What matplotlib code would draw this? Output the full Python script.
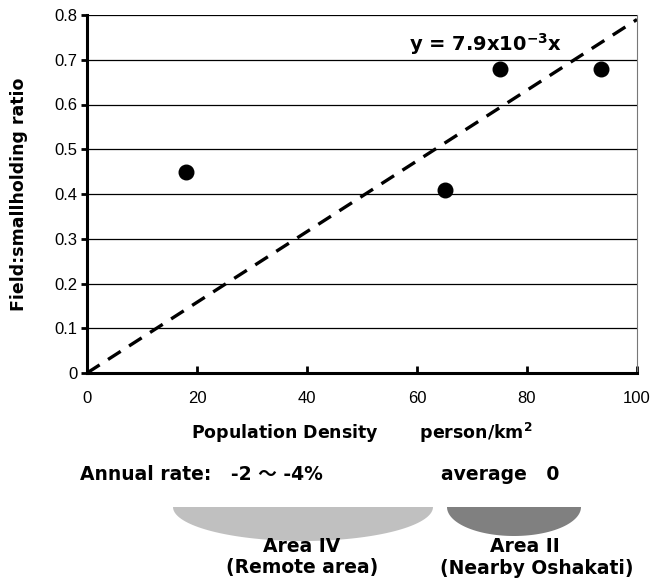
import numpy as np
import matplotlib
matplotlib.use('Agg')
import matplotlib.pyplot as plt
from matplotlib.patches import Polygon

# data
density = [18, 65, 75, 93.5]
ratio = [0.45, 0.41, 0.68, 0.68]
slope = 7.9e-3
fit_x = np.array([0, 100])

xticks = [0, 20, 40, 60, 80, 100]
yticks = [0, 0.1, 0.2, 0.3, 0.4, 0.5, 0.6, 0.7, 0.8]
ytick_labels = ['0', '0.1', '0.2', '0.3', '0.4', '0.5', '0.6', '0.7', '0.8']

lab_font = ['DejaVu Sans', 'Noto Sans CJK JP']
tick_font = ['Liberation Sans', 'DejaVu Sans']

fig = plt.figure(figsize=(6.53, 5.79), dpi=100)
ax = fig.add_axes([87/653, 1 - 373/579, 550/653, 358/579])

ax.set_xlim(0, 100)
ax.set_ylim(0, 0.8)
for y in yticks[1:]:
    ax.axhline(y, color='black', lw=0.9, zorder=1)

ax.plot(fit_x, slope * fit_x, color='black', lw=2.4, dashes=(4.5, 3), zorder=2)
ax.scatter(density, ratio, s=110, color='black', zorder=3)

ax.spines['left'].set_linewidth(2.2)
ax.spines['bottom'].set_linewidth(2.2)
ax.spines['top'].set_visible(False)
ax.spines['right'].set_linewidth(0.8)
ax.spines['right'].set_color('#777777')

ax.set_xticks(xticks)
ax.set_xticklabels([str(t) for t in xticks], family=tick_font, fontsize=12)
ax.set_yticks(yticks)
ax.set_yticklabels(ytick_labels, family=tick_font, fontsize=12)
ax.tick_params(axis='x', direction='in', length=5, width=2, pad=13)
ax.tick_params(axis='y', direction='out', length=4, width=2, pad=3)

ax.set_xlabel('Population Density       person/km$^{\\mathbf{2}}$', family=lab_font,
              fontweight='bold', fontsize=12.5, labelpad=11)
ax.set_ylabel('Field:smallholding ratio', family=lab_font, fontweight='bold',
              fontsize=12.5, labelpad=19)

ax.text(0.585, 0.92, 'y = 7.9x10$^{\\mathbf{-3}}$x', transform=ax.transAxes,
        family=lab_font, fontweight='bold', fontsize=14, va='center')

# lower annotation panel in pixel coordinates
ov = fig.add_axes([0, 0, 1, 1])
ov.set_xlim(0, 653)
ov.set_ylim(579, 0)
ov.axis('off')


def half_ellipse(cx, top, w, h, color):
    t = np.linspace(0, np.pi, 80)
    pts = np.column_stack([cx + w / 2 * np.cos(t), top + h * np.sin(t)])
    ov.add_patch(Polygon(pts, closed=True, color=color, lw=0))


half_ellipse(303, 507, 260, 34, '#c0c0c0')
half_ellipse(514, 507, 134, 29, '#808080')

note = dict(family=lab_font, fontsize=13.5, fontweight='bold', va='center')
ov.text(80, 474, 'Annual rate:   -2 ～ -4%', ha='left', **note)
ov.text(441, 474, 'average   0', ha='left', **note)
ov.text(302, 547, 'Area IV', ha='center', **note)
ov.text(302, 568, '(Remote area)', ha='center', **note)
ov.text(525, 547, 'Area II', ha='center', **note)
ov.text(537, 568, '(Nearby Oshakati)', ha='center', **note)

fig.savefig('out.png', dpi=100)
